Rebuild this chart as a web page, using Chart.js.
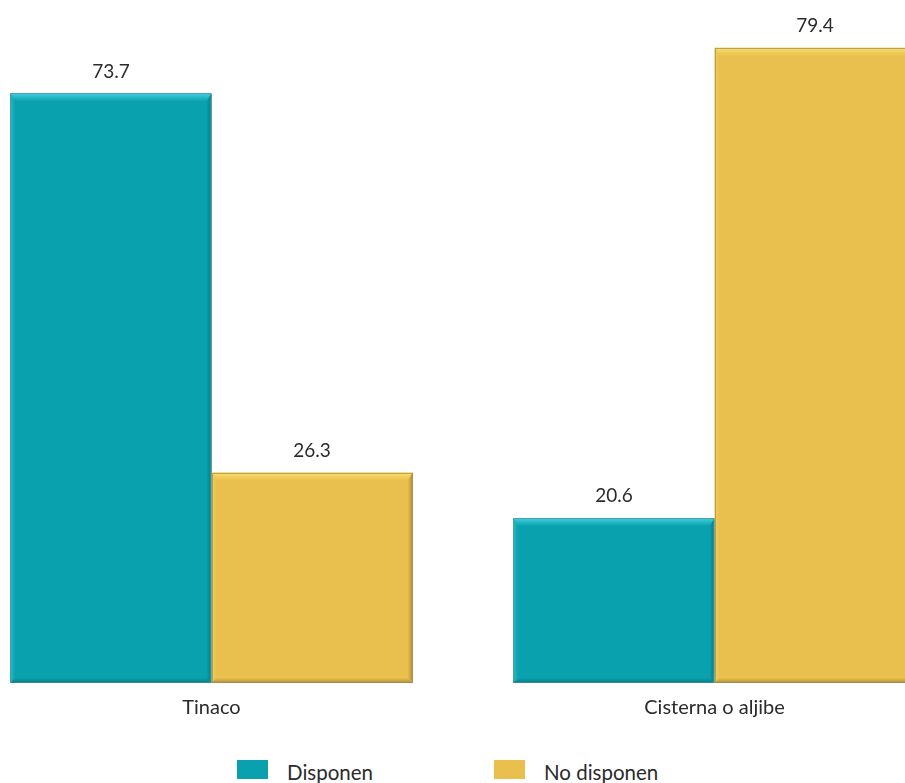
<!DOCTYPE html>
<html>
<head>
<meta charset="utf-8">
<script src="https://cdn.jsdelivr.net/npm/chart.js@4.4.1/dist/chart.umd.min.js"></script>
<style>
  html, body { margin: 0; padding: 0; background: #ffffff; }
  body { width: 905px; height: 783px; position: relative; overflow: hidden; }
  #wrap { position: absolute; left: -40px; top: 0; width: 1006px; height: 733px; }
  #legend { position: absolute; top: 759px; left: 0; width: 905px; height: 24px;
            font-family: "Lato", "Noto Sans", sans-serif; font-size: 20.5px; color: #2b2b2b; }
  .item { position: absolute; top: 0; display: flex; align-items: center; height: 20px; }
  .box { width: 31px; height: 19px; display: inline-block; }
  .lbl { margin-left: 19px; line-height: 20px; position: relative; top: 3px; }
</style>
</head>
<body>
<div id="wrap"><canvas id="c"></canvas></div>
<div id="legend">
  <div class="item" style="left:237px"><span class="box" style="background:#0aa1ae"></span><span class="lbl">Disponen</span></div>
  <div class="item" style="left:494px"><span class="box" style="background:#e9bf4d"></span><span class="lbl">No disponen</span></div>
</div>
<script>
const categories = ["Tinaco", "Cisterna o aljibe"];
const seriesNames = ["Disponen", "No disponen"];
const disponen = [73.7, 20.6];
const noDisponen = [26.3, 79.4];

const colors = {
  Disponen: { main: "#0aa1ae", light: "#3fd0dc", dark: "#077a85", edge: "#4a8f95" },
  "No disponen": { main: "#e9bf4d", light: "#fbe06c", dark: "#b08d35", edge: "#9a8a5a" }
};

const bevelPlugin = {
  id: "bevel",
  afterDatasetsDraw(chart) {
    const ctx = chart.ctx;
    chart.data.datasets.forEach((ds, di) => {
      const meta = chart.getDatasetMeta(di);
      const c = colors[ds.label];
      meta.data.forEach((bar) => {
        const l = bar.x - bar.width / 2, r = bar.x + bar.width / 2;
        const t = bar.y, b = bar.base;
        const bt = 8, bs = 5;
        ctx.save();
        let g = ctx.createLinearGradient(0, t, 0, t + bt);
        g.addColorStop(0, c.light); g.addColorStop(1, c.main);
        ctx.fillStyle = g;
        ctx.beginPath();
        ctx.moveTo(l, t); ctx.lineTo(r, t); ctx.lineTo(r - bs, t + bt); ctx.lineTo(l + bs, t + bt); ctx.closePath();
        ctx.fill();
        g = ctx.createLinearGradient(l, 0, l + bs, 0);
        g.addColorStop(0, c.light); g.addColorStop(1, c.main);
        ctx.fillStyle = g;
        ctx.globalAlpha = 0.5;
        ctx.beginPath();
        ctx.moveTo(l, t); ctx.lineTo(l + bs, t + bt); ctx.lineTo(l + bs, b - bs); ctx.lineTo(l, b); ctx.closePath();
        ctx.fill();
        ctx.globalAlpha = 1;
        g = ctx.createLinearGradient(r - bs, 0, r, 0);
        g.addColorStop(0, c.main); g.addColorStop(1, c.dark);
        ctx.fillStyle = g;
        ctx.beginPath();
        ctx.moveTo(r, t); ctx.lineTo(r, b); ctx.lineTo(r - bs, b - bs); ctx.lineTo(r - bs, t + bt); ctx.closePath();
        ctx.fill();
        g = ctx.createLinearGradient(0, b - bs, 0, b);
        g.addColorStop(0, c.main); g.addColorStop(1, c.dark);
        ctx.fillStyle = g;
        ctx.beginPath();
        ctx.moveTo(l, b); ctx.lineTo(r, b); ctx.lineTo(r - bs, b - bs); ctx.lineTo(l + bs, b - bs); ctx.closePath();
        ctx.fill();
        ctx.strokeStyle = c.edge;
        ctx.globalAlpha = 0.7;
        ctx.lineWidth = 1;
        ctx.strokeRect(Math.round(l) + 0.5, Math.round(t) + 0.5, Math.round(r - l) - 1, Math.round(b - t) - 1);
        ctx.restore();
      });
    });
  }
};

const labelPlugin = {
  id: "valueLabels",
  afterDatasetsDraw(chart) {
    const ctx = chart.ctx;
    ctx.save();
    ctx.font = '19px "Lato", "Noto Sans", sans-serif';
    ctx.fillStyle = "#2b2b2b";
    ctx.textAlign = "center";
    ctx.textBaseline = "middle";
    chart.data.datasets.forEach((ds, di) => {
      const meta = chart.getDatasetMeta(di);
      meta.data.forEach((bar, i) => {
        ctx.fillText(ds.data[i].toFixed(1), bar.x, bar.y - 22);
      });
    });
    ctx.restore();
  }
};

new Chart(document.getElementById("c"), {
  type: "bar",
  data: {
    labels: categories,
    datasets: [
      { label: seriesNames[0], data: disponen, backgroundColor: colors.Disponen.main, borderWidth: 0 },
      { label: seriesNames[1], data: noDisponen, backgroundColor: colors["No disponen"].main, borderWidth: 0 }
    ]
  },
  options: {
    responsive: true,
    maintainAspectRatio: false,
    animation: false,
    layout: { padding: { top: 3, left: 0, right: 0, bottom: 0 } },
    plugins: { legend: { display: false }, tooltip: { enabled: false } },
    scales: {
      x: {
        grid: { display: false, drawTicks: false },
        border: { display: false },
        ticks: { color: "#2b2b2b", padding: 13, font: { family: '"Lato", "Noto Sans", sans-serif', size: 20 } }
      },
      y: { display: false, min: 0, max: 85 }
    },
    datasets: { bar: { categoryPercentage: 0.8, barPercentage: 1.0 } }
  },
  plugins: [bevelPlugin, labelPlugin]
});
</script>
</body>
</html>
